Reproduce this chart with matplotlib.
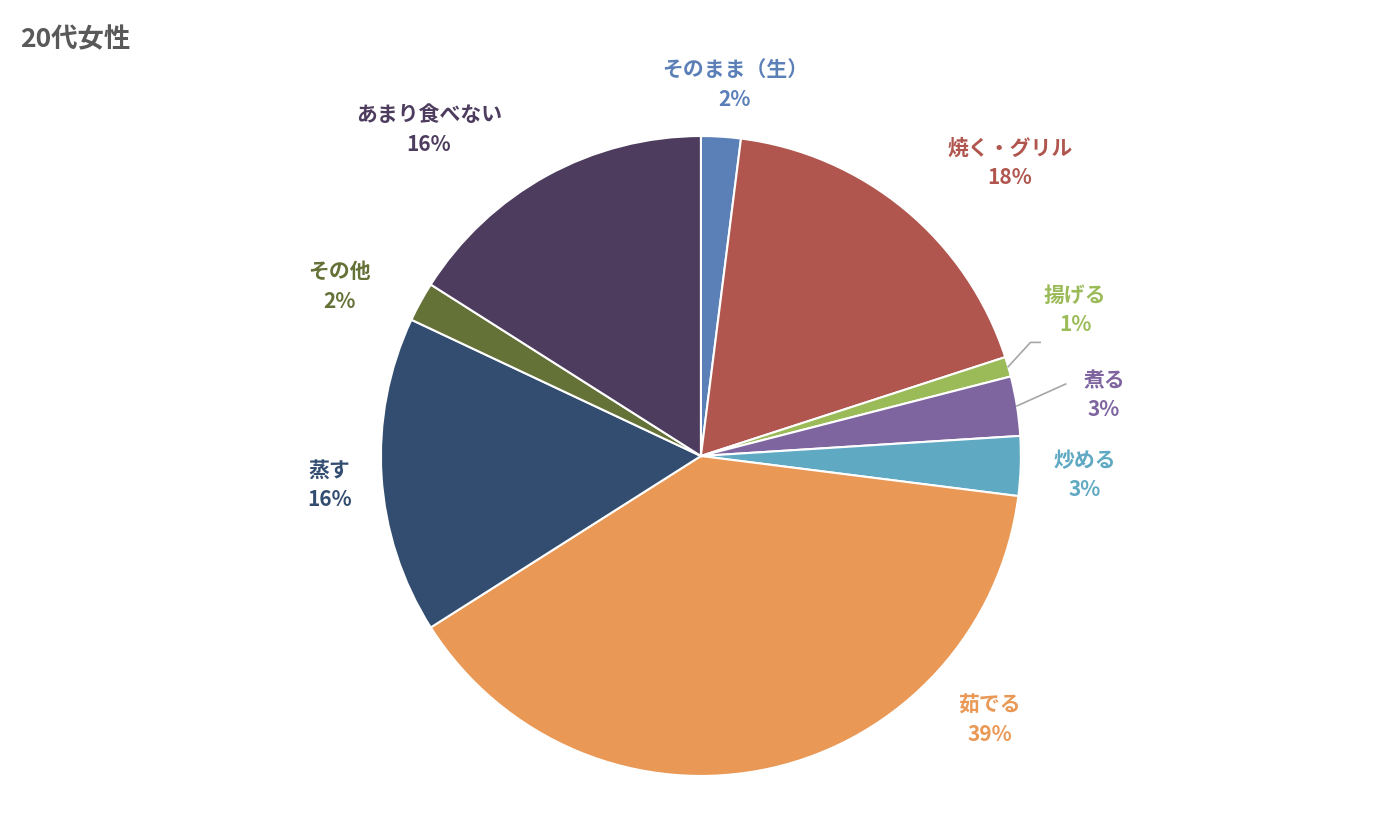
import matplotlib
matplotlib.use("Agg")
import matplotlib.pyplot as plt
import numpy as np

plt.rcParams['font.family'] = ['Noto Sans CJK JP', 'DejaVu Sans']

categories = ["そのまま（生）", "焼く・グリル", "揚げる", "煮る", "炒める", "茹でる", "蒸す", "その他", "あまり食べない"]
values = [2, 18, 1, 3, 3, 39, 16, 2, 16]
colors = ["#5B80B8", "#B0564E", "#9BBB59", "#7F659F", "#5FA9C2", "#E99855", "#324D70", "#647237", "#4D3C5E"]
label_pos = [(0.106, 1.16), (0.966, 0.916), (1.17, 0.456), (1.26, 0.19), (1.2, -0.06),
             (0.903, -0.825), (-1.16, -0.09), (-1.13, 0.53), (-0.85, 1.02)]

fig = plt.figure(figsize=(14, 8.4), dpi=100)
ax = fig.add_axes([0.2721, 0.0762, 0.4571, 0.7619])
wedges, _ = ax.pie(values, colors=colors, startangle=90, counterclock=False,
                   wedgeprops=dict(edgecolor="white", linewidth=1.5), radius=1)
ax.set_xlim(-1, 1); ax.set_ylim(-1, 1)
ax.set_aspect('equal')
ax.axis('off')

for w, cat, v, c, (lx, ly) in zip(wedges, categories, values, colors, label_pos):
    ax.text(lx, ly, f"{cat}\n{v}%", color=c, ha='center', va='center',
            fontsize=15, fontweight='bold', linespacing=1.5, clip_on=False)

# leader lines for small slices
for idx in (2, 3):
    w = wedges[idx]
    a = np.deg2rad((w.theta1 + w.theta2) / 2)
    x0, y0 = np.cos(a), np.sin(a)
    if idx == 2:
        ax.plot([x0, 1.03, 1.06], [y0, 0.355, 0.355], color="#A6A6A6", lw=1.2, clip_on=False)
    else:
        ax.plot([x0, 1.14], [y0, 0.225], color="#A6A6A6", lw=1.2, clip_on=False)

fig.text(20/1400, 1 - 40/840, "20代女性", fontsize=19, fontweight='bold', color="#595959",
         ha='left', va='center')
fig.savefig("out.png", dpi=100)
